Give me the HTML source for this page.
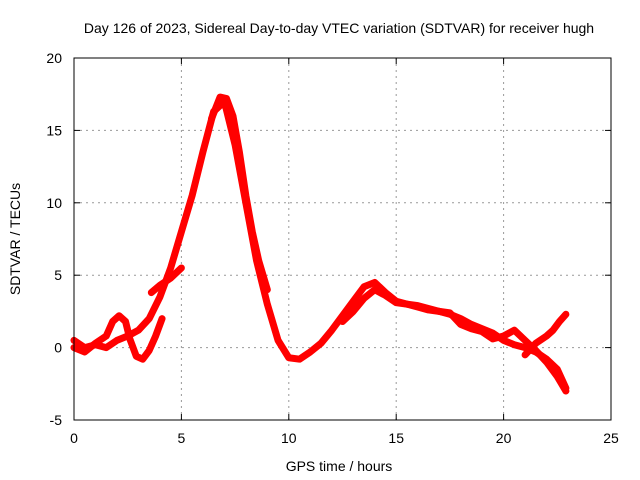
<!DOCTYPE html>
<html><head><meta charset="utf-8"><style>
body{margin:0;background:#fff}
svg{display:block;font-family:"Liberation Sans",sans-serif;font-size:14px}
</style></head><body>
<svg id="chart" width="640" height="480">
<text x="339" y="33" text-anchor="middle">Day 126 of 2023, Sidereal Day-to-day VTEC variation (SDTVAR) for receiver hugh</text>
<text x="339" y="471" text-anchor="middle">GPS time / hours</text>
<text transform="translate(20,239) rotate(-90)" text-anchor="middle">SDTVAR / TECUs</text>
<g id="grid"></g><g id="ticks"></g><g id="series"></g>
<rect x="74" y="58" width="537" height="362" fill="none" stroke="#000"/>
</svg>
<script>
const xTicks=[0,5,10,15,20,25];
const yTicks=[-5,0,5,10,15,20];
const trackAx=[0,0.5,1,1.5,2,2.5,3,3.5,4,4.5,5,5.5,6,6.5,7,7.5,8,8.5,9,9.5,10,10.5,11,11.5,12,12.5,13,13.5,14,14.5,15,15.5,16,16.5,17,17.5,18,18.5,19,19.5,20,20.5,21,21.5,22,22.5,22.9];
const trackAy=[0.5,0,0.2,0,0.5,0.8,1.2,2,3.5,5.5,8,10.5,13.5,16.3,17,14,10,6,3,0.5,-0.7,-0.8,-0.3,0.3,1.2,2.2,3.2,4.2,4.5,3.8,3.2,3,2.8,2.6,2.5,2.3,2,1.6,1.3,1,0.5,0.2,0,-0.3,-0.8,-1.5,-2.8];
const trackBx=[0,0.5,1,1.5,1.8,2.1,2.4,2.6,2.9,3.2,3.5,3.8,4.1];
const trackBy=[0,-0.3,0.3,0.8,1.8,2.2,1.8,0.6,-0.6,-0.8,-0.2,0.8,2];
const trackCx=[3.6,4,4.5,5];
const trackCy=[3.8,4.3,4.8,5.5];
const trackDx=[6.4,6.8,7.1,7.4,7.7,8,8.3,8.6,9];
const trackDy=[15.8,17.3,17.2,16,13.5,10.5,8,6,4];
const trackEx=[12.5,13,13.5,14,14.5,15,16,17,17.5,18,18.5,19,19.5,20,20.5,21,21.5,22,22.5,22.9];
const trackEy=[1.8,2.5,3.4,4,3.6,3.1,2.9,2.5,2.4,1.6,1.3,1.1,0.6,0.8,1.2,0.5,-0.2,-1,-2,-3];
const trackFx=[21,21.5,22,22.3,22.6,22.9];
const trackFy=[-0.5,0.3,0.8,1.2,1.8,2.3];
const tracks=[[trackAx,trackAy],[trackBx,trackBy],[trackCx,trackCy],[trackDx,trackDy],[trackEx,trackEy],[trackFx,trackFy]];
const X=v=>74+v*537/25, Y=v=>420-(v+5)*362/25;
const NS='http://www.w3.org/2000/svg';
const grid=document.getElementById('grid'),ticks=document.getElementById('ticks'),ser=document.getElementById('series');
function mk(tag,attrs,parent){const e=document.createElementNS(NS,tag);for(const k in attrs)e.setAttribute(k,attrs[k]);parent.appendChild(e);return e;}
xTicks.forEach(t=>{
 if(t>0&&t<25){const g=mk('line',{x1:X(t),x2:X(t),y1:58,y2:420,stroke:'#999','stroke-dasharray':'2,4'},grid);
 
 }
 mk('line',{x1:X(t),x2:X(t),y1:420,y2:414,stroke:'#000'},ticks);
 mk('line',{x1:X(t),x2:X(t),y1:58,y2:64,stroke:'#000'},ticks);
 const l=mk('text',{x:X(t),y:443,'text-anchor':'middle'},ticks);l.textContent=t;
 
 
});
yTicks.forEach(t=>{
 if(t>-5&&t<20){const g=mk('line',{x1:74,x2:611,y1:Y(t),y2:Y(t),stroke:'#999','stroke-dasharray':'2,4'},grid);
 
 }
 mk('line',{x1:74,x2:80,y1:Y(t),y2:Y(t),stroke:'#000'},ticks);
 mk('line',{x1:611,x2:605,y1:Y(t),y2:Y(t),stroke:'#000'},ticks);
 const l=mk('text',{x:62,y:Y(t)+5,'text-anchor':'end'},ticks);l.textContent=t;
 
 
});
tracks.forEach(([xs,ys])=>{
 const p=mk('polyline',{points:xs.map((x,i)=>X(x)+','+Y(ys[i])).join(' '),fill:'none',stroke:'#f00','stroke-width':7,'stroke-linejoin':'round','stroke-linecap':'round'},ser);
 
 
});
</script>
</body></html>
